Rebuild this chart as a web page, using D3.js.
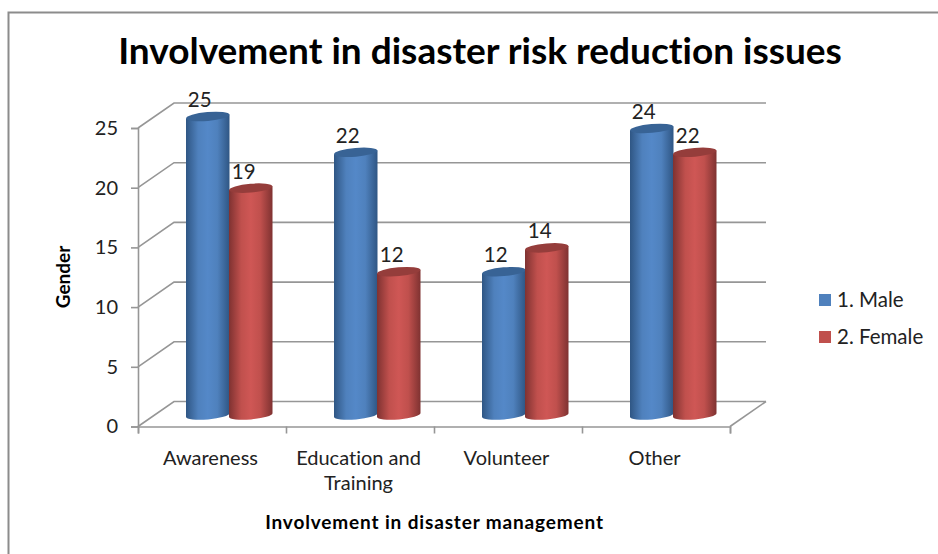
<!DOCTYPE html>
<html><head><meta charset="utf-8">
<script src="https://cdn.jsdelivr.net/npm/d3@7"></script>
<style>html,body{margin:0;background:#fff}svg{display:block}text{font-variant-ligatures:none}</style></head>
<body><svg id="c" width="938" height="554"></svg>
<script>
const categories = ["Awareness", "Education and Training", "Volunteer", "Other"];
const categoryLines = [["Awareness"], ["Education and", "Training"], ["Volunteer"], ["Other"]];
const seriesNames = ["1. Male", "2. Female"];
const male = [25, 22, 12, 24];
const female = [19, 12, 14, 22];
const yTicks = [0, 5, 10, 15, 20, 25];

const svg = d3.select("#c");
const font = "Lato, sans-serif";
const colors = [
  {edge:"#2f5684", mid:"#4f81bd", top:"#386395"},
  {edge:"#7f3231", mid:"#c0504d", top:"#953d3b"}
];
const light = ["#5488c8", "#cf5755"];

const defs = svg.append("defs");
colors.forEach((c,i)=>{
  const g = defs.append("linearGradient").attr("id","bar"+i);
  [[0,c.edge],[.28,c.mid],[.5,light[i]],[.72,c.mid],[1,c.edge]].forEach(s=>
    g.append("stop").attr("offset",s[0]).attr("stop-color",s[1]));
});

// page frame
svg.append("path").attr("d","M8.5,554V12.5H938").attr("fill","none").attr("stroke","#8c8c8c").attr("stroke-width",2);

const y = d3.scaleLinear().domain([0,25]).range([426.5,128]);
const x = d3.scalePoint().domain(d3.range(categories.length+1)).range([138,730]);
const depthX = 36, depthY = 25;
const grid = "#969696";

const gridG = svg.append("g").attr("fill","none").attr("stroke",grid).attr("stroke-width",1.6);
yTicks.forEach(t=>{
  gridG.append("path").attr("d",`M${x(0)},${y(t)}L${x(0)+depthX},${y(t)-depthY}H${x(4)+depthX}`);
});
gridG.append("path").attr("d",`M${x(4)},${y(0)}L${x(4)+depthX},${y(0)-depthY}`);

const axisY = svg.append("g").attr("transform",`translate(${x(0)},0)`)
  .call(d3.axisLeft(y).tickValues(yTicks).tickSize(7).tickPadding(13));
const axisX = svg.append("g").attr("transform",`translate(0,${y(0)})`)
  .call(d3.axisBottom(d3.scaleLinear().domain([0,4]).range([138,730])).ticks(4).tickSize(7).tickFormat(""));
[axisY,axisX].forEach(a=>{
  a.selectAll("path,line").attr("stroke",grid).attr("stroke-width",1.6);
});
axisY.selectAll("text").attr("font-family",font).attr("font-size",20).attr("fill","#222");

// cylinders
const barW = 43.5, rx = barW/2, ry = 4.4, tilt = -5;
const baseY = 415;
const groupX = d3.scaleBand().domain([0,1]).range([48,48+2*barW-1]);
const allSeries = [male, female];
const h = v => y(0)-y(v);
const barsG = svg.append("g");
categories.forEach((cat,ci)=>{
  allSeries.forEach((vals,si)=>{
    const v = vals[ci];
    const left = x(ci)+groupX(si);
    const cx = left+rx;
    const dy = rx*Math.sin(tilt*Math.PI/180);
    const topY = baseY-h(v);
    const g = barsG.append("g");
    g.append("path").attr("fill",`url(#bar${si})`)
     .attr("d",`M${left},${topY-dy}L${left},${baseY-dy}A${rx},${ry} ${tilt} 0 0 ${left+barW},${baseY+dy}L${left+barW},${topY+dy}Z`);
    g.append("ellipse").attr("cx",cx).attr("cy",topY).attr("rx",rx).attr("ry",ry)
     .attr("transform",`rotate(${tilt} ${cx} ${topY})`).attr("fill",colors[si].top);
  });
});
categories.forEach((cat,ci)=>{
  allSeries.forEach((vals,si)=>{
    const v = vals[ci];
    const cx = x(ci)+groupX(si)+rx;
    svg.append("text").attr("x",cx+(si?-7:-8)).attr("y",baseY-h(v)-9.5)
     .attr("text-anchor","middle").attr("font-family",font).attr("font-size",20.5).attr("fill","#222").text(v);
  });
});

// category labels
categories.forEach((cat,ci)=>{
  const t = svg.append("text").attr("text-anchor","middle").attr("font-family",font).attr("font-size",20).attr("fill","#222");
  categoryLines[ci].forEach((l,li)=>t.append("tspan").attr("x",(x(ci)+x(ci+1))/2-1.5).attr("y",465+li*25).text(l));
});

svg.append("text").attr("x",480).attr("y",64).attr("text-anchor","middle").attr("font-family",font).attr("font-weight",700).attr("font-size",37).attr("fill","#000").text("Involvement in disaster risk reduction issues");
svg.append("text").attr("x",434.5).attr("y",529).attr("text-anchor","middle").attr("font-family",font).attr("font-weight",700).attr("font-size",19).attr("letter-spacing",0.85).attr("fill","#000").text("Involvement in disaster management");
svg.append("text").attr("transform","translate(70,277) rotate(-90)").attr("text-anchor","middle").attr("font-family",font).attr("font-weight",700).attr("font-size",19).attr("fill","#000").text("Gender");

// legend
seriesNames.forEach((n,i)=>{
  const ly = 300+i*37;
  svg.append("rect").attr("x",819).attr("y",ly-6).attr("width",12).attr("height",12).attr("fill",colors[i].mid);
  svg.append("text").attr("x",837).attr("y",ly+7).attr("font-family",font).attr("font-size",20.5).attr("fill","#222").text(n);
});
</script></body></html>
